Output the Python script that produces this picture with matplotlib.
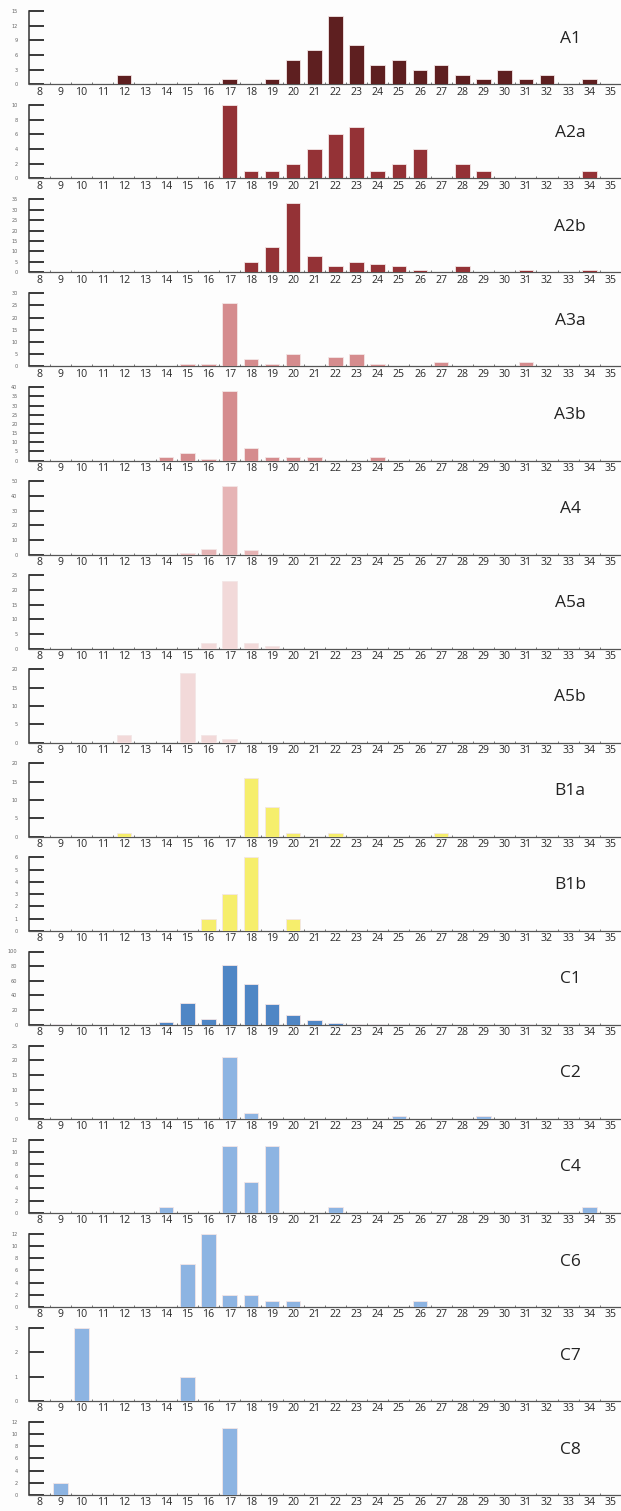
import matplotlib
matplotlib.use("Agg")
import matplotlib.pyplot as plt
import numpy as np

# x categories shown on every panel
categories = list(range(8, 36))

# panel names, top to bottom
panels = ["A1", "A2a", "A2b", "A3a", "A3b", "A4", "A5a", "A5b",
          "B1a", "B1b", "C1", "C2", "C4", "C6", "C7", "C8"]

# counts per category (category -> count), zero elsewhere
a1 = {12: 2, 17: 1, 19: 1, 20: 5, 21: 7, 22: 14, 23: 8, 24: 4, 25: 5, 26: 3,
      27: 4, 28: 2, 29: 1, 30: 3, 31: 1, 32: 2, 34: 1}
a2a = {17: 10, 18: 1, 19: 1, 20: 2, 21: 4, 22: 6, 23: 7, 24: 1, 25: 2, 26: 4,
       28: 2, 29: 1, 34: 1}
a2b = {18: 5, 19: 12, 20: 33, 21: 8, 22: 3, 23: 5, 24: 4, 25: 3, 26: 1,
       28: 3, 31: 1, 34: 1}
a3a = {15: 1, 16: 1, 17: 26, 18: 3, 19: 1, 20: 5, 22: 4, 23: 5, 24: 1,
       27: 2, 31: 2}
a3b = {14: 2, 15: 4, 16: 1, 17: 38, 18: 7, 19: 2, 20: 2, 21: 2, 24: 2}
a4 = {15: 1, 16: 4, 17: 47, 18: 3}
a5a = {16: 2, 17: 23, 18: 2, 19: 1}
a5b = {12: 2, 15: 19, 16: 2, 17: 1}
b1a = {12: 1, 18: 16, 19: 8, 20: 1, 22: 1, 27: 1}
b1b = {16: 1, 17: 3, 18: 6, 20: 1}
c1 = {9: 1, 14: 4, 15: 30, 16: 8, 17: 82, 18: 55, 19: 29, 20: 13, 21: 6,
      22: 2, 23: 1, 24: 1, 25: 1, 31: 1}
c2 = {17: 21, 18: 2, 25: 1, 29: 1}
c4 = {14: 1, 17: 11, 18: 5, 19: 11, 22: 1, 34: 1}
c6 = {15: 7, 16: 12, 17: 2, 18: 2, 19: 1, 20: 1, 26: 1}
c7 = {10: 3, 15: 1}
c8 = {9: 2, 17: 11}

series = [a1, a2a, a2b, a3a, a3b, a4, a5a, a5b,
          b1a, b1b, c1, c2, c4, c6, c7, c8]

# y axis top and tick step per panel
y_max = [15, 10, 35, 30, 40, 50, 25, 20, 20, 6, 100, 25, 12, 12, 3, 12]
y_step = [3, 2, 5, 5, 5, 10, 5, 5, 5, 1, 20, 5, 2, 2, 1, 2]

colors = ["#5e1f20", "#943236", "#943236", "#d58c8e", "#d58c8e", "#e6b4b5",
          "#f2d9d9", "#f2d9d9", "#f6ee6c", "#f6ee6c", "#4f86c5", "#8db4e2",
          "#8db4e2", "#8db4e2", "#8db4e2", "#8db4e2"]

W, H = 621, 1511
fig = plt.figure(figsize=(W / 100, H / 100), dpi=100)
fig.patch.set_facecolor("#fdfdfd")

left_px = 28.7
first_base = 84.3
pitch = 94.05
ax_h = 73.3

for i, name in enumerate(panels):
    base = first_base + i * pitch
    ax = fig.add_axes([left_px / W, 1 - base / H, (W - left_px) / W, ax_h / H])
    ax.set_facecolor("#fdfdfd")
    vals = [series[i].get(c, 0) for c in categories]
    ax.bar(categories, vals, width=0.69, color=colors[i],
           edgecolor="#f3e6e6", linewidth=0.6, zorder=3)

    ax.set_xlim(7.5, 35.5)
    ax.set_ylim(0, y_max[i])

    for s in ["top", "right"]:
        ax.spines[s].set_visible(False)
    ax.spines["left"].set_color("#333333")
    ax.spines["left"].set_linewidth(1.1)
    ax.spines["bottom"].set_color("#555555")
    ax.spines["bottom"].set_linewidth(0.9)

    ax.set_yticks(np.arange(0, y_max[i] + 0.1, y_step[i]))
    ax.tick_params(axis="y", direction="in", length=11, width=1.3,
                   color="#2a2a2a", pad=8, labelsize=3.6, labelcolor="#666666")

    ax.set_xticks(categories)
    ax.set_xticklabels([str(c) for c in categories], fontfamily="Open Sans")
    ax.tick_params(axis="x", which="major", length=0, pad=1.6,
                   labelsize=7.6, labelcolor="#2a2a2a")
    ax.set_xticks(np.arange(8.5, 35.6, 1), minor=True)
    ax.tick_params(axis="x", which="minor", direction="in", length=1.6,
                   width=0.7, color="#777777")

    ax.text(0.914, 0.62, name, transform=ax.transAxes, ha="center",
            va="center", fontsize=12.5, fontfamily="Open Sans", color="#222222")

fig.savefig("out.png", dpi=100, facecolor=fig.get_facecolor())
